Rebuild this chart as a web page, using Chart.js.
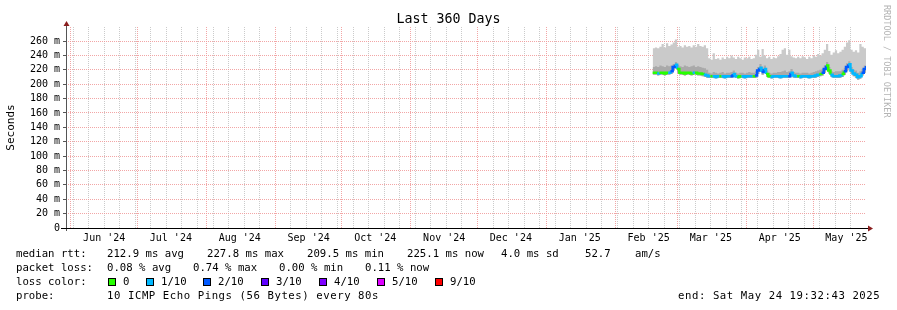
<!DOCTYPE html>
<html>
<head>
<meta charset="utf-8">
<script src="https://cdn.jsdelivr.net/npm/chart.js@4.4.1/dist/chart.umd.min.js"></script>
<style>
  html, body { margin: 0; padding: 0; background: #fff; }
  #wrap { position: relative; width: 897px; height: 310px; overflow: hidden; font-family: "DejaVu Sans Mono", monospace; }
  #wrap canvas { position: absolute; left: 0; top: 0; }
  .t { position: absolute; white-space: pre; font-size: 10.67px; line-height: 14px; color: #000; }
  .ancho { letter-spacing: 0.56px; }
  .sw { position: absolute; width: 6px; height: 6px; border: 1px solid #000; }
  #titulo { position: absolute; left: 0; width: 897px; top: 11px; text-align: center; font-size: 13.3px; line-height: 16px; }
  #marca { position: absolute; left: 882px; top: 5px; writing-mode: vertical-rl; text-orientation: sideways; font-size: 8.5px; color: #b4b4b4; white-space: pre; }
</style>
</head>
<body>
<div id="wrap">
  <canvas id="graficoSmoke" width="897" height="310"></canvas>
  <div id="titulo">Last 360 Days</div>
  <div id="marca">RRDTOOL / TOBI OETIKER</div>

  <div class="t" style="left:16px;top:247px">median rtt:</div>
  <div class="t" style="left:107px;top:247px">212.9 ms avg</div>
  <div class="t" style="left:207px;top:247px">227.8 ms max</div>
  <div class="t" style="left:307px;top:247px">209.5 ms min</div>
  <div class="t" style="left:407px;top:247px">225.1 ms now</div>
  <div class="t" style="left:501px;top:247px">4.0 ms sd</div>
  <div class="t" style="left:585px;top:247px">52.7</div>
  <div class="t" style="left:635px;top:247px">am/s</div>

  <div class="t" style="left:16px;top:261px">packet loss:</div>
  <div class="t" style="left:107px;top:261px">0.08 % avg</div>
  <div class="t" style="left:193px;top:261px">0.74 % max</div>
  <div class="t" style="left:279px;top:261px">0.00 % min</div>
  <div class="t" style="left:365px;top:261px">0.11 % now</div>

  <div class="t" style="left:16px;top:275px">loss color:</div>
  <div id="leyendaPerdida"></div>

  <div class="t" style="left:16px;top:289px">probe:</div>
  <div class="t ancho" style="left:107px;top:289px">10 ICMP Echo Pings (56 Bytes) every 80s</div>
  <div class="t ancho" style="left:678px;top:289px">end: Sat May 24 19:32:43 2025</div>
</div>
<script>
// fin del grafico y ventana de 360 dias
const fin = Date.UTC(2025, 4, 24, 19, 32, 43)
const totalDias = 360
const inicio = fin - totalDias * 86400000

// etiquetas de meses (centradas a mitad de mes)
const meses = ["Jun '24", "Jul '24", "Aug '24", "Sep '24", "Oct '24", "Nov '24",
  "Dec '24", "Jan '25", "Feb '25", "Mar '25", "Apr '25", "May '25"]

// colores de perdida
const etiquetasPerdida = ['0', '1/10', '2/10', '3/10', '4/10', '5/10', '9/10']
const coloresPerdida = ['#26ff00', '#00b8ff', '#0059ff', '#5e00ff', '#7e00ff', '#dd00ff', '#ff0000']

// primer dia con datos (dias desde el inicio), un valor por dia
const primerDia = 264

const mediana = [
  216, 216, 215, 216, 216, 215, 216, 216, 218, 224,
  227, 221, 216, 216, 215, 216, 216, 215, 216, 216,
  215, 215, 214, 213, 212,
  211, 211, 211, 210, 211, 211, 211, 210, 211, 211,
  211, 214, 211, 210, 211, 211, 210, 211, 211, 211,
  211, 212, 219, 223, 217, 221, 214, 211, 210, 211,
  211, 211, 210, 211, 211, 211, 211, 216, 212, 211,
  211, 210, 211, 211, 211, 210, 211, 211, 212, 213,
  214, 216, 221, 226, 219, 213, 211, 211, 211, 212,
  214, 218, 224, 227.8, 219, 215, 213, 209.5, 211, 216,
  221, 225.1
]

const perdida = [
  0, 0, 0, 1, 0, 0, 0, 0, 1, 2,
  2, 1, 0, 0, 0, 0, 0, 0, 0, 1,
  0, 0, 0, 0, 1,
  1, 1, 0, 1, 1, 1, 0, 1, 1, 1,
  1, 2, 1, 1, 0, 0, 1, 1, 1, 1,
  1, 0, 2, 2, 1, 2, 1, 0, 0, 1,
  1, 1, 1, 1, 1, 1, 1, 2, 1, 1,
  1, 0, 1, 1, 1, 1, 1, 1, 1, 1,
  1, 0, 2, 2, 0, 0, 1, 1, 1, 1,
  1, 0, 2, 2, 1, 1, 1, 1, 1, 1,
  2, 2
]

const humoBajo = [
  213, 213, 212, 213, 213, 212, 213, 213, 214, 219,
  222, 216, 213, 213, 212, 213, 213, 212, 213, 213,
  212, 212, 211, 210, 209,
  208.5, 208.5, 208.5, 208, 208.5, 208.5, 208.5, 208, 208.5, 208.5,
  208.5, 210, 208.5, 208, 208.5, 208.5, 208, 208.5, 208.5, 208.5,
  208.5, 209, 214, 218, 213, 216, 210, 208.5, 208, 208.5,
  208.5, 208.5, 208, 208.5, 208.5, 208.5, 208.5, 212, 209, 208.5,
  208.5, 208, 208.5, 208.5, 208.5, 208, 208.5, 208.5, 209, 210,
  211, 212, 216, 221, 215, 210, 208.5, 208.5, 208.5, 209,
  210, 213, 218, 222, 215, 211, 209, 206, 208, 212,
  216, 220
]

const humoMedio = [
  224, 225, 224, 226, 225, 224, 226, 225, 226, 228,
  231, 227, 225, 224, 226, 225, 224, 225, 226, 224,
  225, 224, 223, 222, 220,
  216, 215, 217, 216, 215, 216, 217, 215, 216, 216,
  217, 219, 216, 215, 216, 216, 215, 216, 217, 216,
  216, 218, 224, 228, 223, 226, 219, 216, 215, 216,
  216, 217, 217, 218, 219, 217, 218, 221, 217, 216,
  216, 215, 216, 216, 216, 215, 216, 217, 218, 219,
  220, 221, 226, 231, 224, 218, 217, 218, 218, 218,
  220, 223, 229, 232, 224, 220, 219, 216, 218, 221,
  226, 229
]

const humoAlto = [
  250, 251, 250, 252, 256, 251, 257, 253, 255, 258,
  262, 252, 253, 251, 254, 252, 253, 251, 254, 252,
  256, 253, 252, 254, 250,
  236, 234, 243, 235, 236, 234, 237, 235, 238, 236,
  240, 237, 235, 238, 236, 234, 237, 236, 238, 235,
  236, 241, 248, 238, 249, 240, 236, 238, 235, 237,
  236, 239, 242, 248, 250, 241, 248, 239, 237, 236,
  238, 236, 239, 237, 235, 238, 236, 240, 238, 242,
  240, 243, 248, 256, 246, 241, 244, 247, 243, 245,
  248, 252, 258, 261, 248, 245, 247, 244, 256, 252,
  250, 251
]

const rojo = 'rgba(240,150,150,0.85)'
const gris = 'rgba(190,190,190,0.8)'

const diaDe = (ms) => (ms - inicio) / 86400000
const puntos = (arr) => arr.map((v, i) => ({ x: primerDia + i, y: v }))

// ticks del eje x: inicio de mes (rojo), domingos (gris), etiquetas a mitad de mes
const ticksX = new Map()
const ponerTick = (v, campo, valor) => {
  const t = ticksX.get(v) || { value: v }
  t[campo] = valor
  ticksX.set(v, t)
}
const d0 = new Date(inicio)
meses.forEach((m, k) => {
  const y = d0.getUTCFullYear(), mo = d0.getUTCMonth() + 1 + k
  ponerTick(diaDe(Date.UTC(y, mo, 1)), 'tipo', 'mes')
  ponerTick(diaDe(Date.UTC(y, mo, 16)), 'texto', m)
})
let domingo = Date.UTC(d0.getUTCFullYear(), d0.getUTCMonth(), d0.getUTCDate() + 1)
while (new Date(domingo).getUTCDay() !== 0) domingo += 86400000
for (; domingo < fin; domingo += 7 * 86400000) {
  const v = diaDe(domingo)
  if (!(ticksX.get(v) || {}).tipo) ponerTick(v, 'tipo', 'semana')
}
const listaTicksX = [...ticksX.values()].filter(t => t.value > 0 && t.value < totalDias).sort((a, b) => a.value - b.value)

// leyenda de colores de perdida
const leyenda = document.getElementById('leyendaPerdida')
const posCuadro = [108, 146, 203, 261, 319, 377, 435]
etiquetasPerdida.forEach((et, i) => {
  const c = document.createElement('div')
  c.className = 'sw'
  c.style.left = posCuadro[i] + 'px'
  c.style.top = '278px'
  c.style.background = coloresPerdida[i]
  leyenda.appendChild(c)
  const t = document.createElement('div')
  t.className = 't'
  t.style.left = (posCuadro[i] + 15) + 'px'
  t.style.top = '275px'
  t.textContent = et
  leyenda.appendChild(t)
})

// ejes con flechas
const flechas = {
  id: 'flechas',
  afterDraw(chart) {
    const { ctx, chartArea: a } = chart
    ctx.save()
    ctx.lineWidth = 1
    ctx.strokeStyle = '#555'
    ctx.beginPath()
    ctx.moveTo(a.left + 0.5, a.bottom + 3)
    ctx.lineTo(a.left + 0.5, a.top - 3)
    ctx.stroke()
    ctx.strokeStyle = '#000'
    ctx.beginPath()
    ctx.moveTo(a.left - 5, a.bottom + 0.5)
    ctx.lineTo(a.right + 3, a.bottom + 0.5)
    ctx.stroke()
    ctx.fillStyle = '#8a1e1e'
    ctx.beginPath()
    ctx.moveTo(a.left + 0.5, a.top - 6)
    ctx.lineTo(a.left + 3.5, a.top - 1)
    ctx.lineTo(a.left - 2.5, a.top - 1)
    ctx.closePath()
    ctx.fill()
    ctx.beginPath()
    ctx.moveTo(a.right + 7, a.bottom + 0.5)
    ctx.lineTo(a.right + 2, a.bottom - 2.5)
    ctx.lineTo(a.right + 2, a.bottom + 3.5)
    ctx.closePath()
    ctx.fill()
    ctx.restore()
  }
}

const fuente = { family: 'DejaVu Sans Mono', size: 10 }
const sinLinea = { borderColor: 'rgba(0,0,0,0)', borderWidth: 0, pointRadius: 0, stepped: 'before' }

const lienzo = document.getElementById('graficoSmoke')

new Chart(lienzo, {
  type: 'line',
  data: {
    datasets: [
      { label: 'min', data: puntos(humoBajo), fill: false, order: 10, ...sinLinea },
      { label: 'smoke', data: puntos(humoAlto), fill: 0, backgroundColor: '#cacaca', order: 5, ...sinLinea },
      { label: 'smoke core', data: puntos(humoMedio), fill: 0, backgroundColor: '#a9a9a9', order: 4, ...sinLinea },
      {
        label: 'median rtt',
        data: puntos(mediana),
        fill: false,
        order: 1,
        borderWidth: 2.5,
        pointRadius: 0,
        stepped: 'before',
        borderColor: coloresPerdida[1],
        segment: {
          borderColor: (ctx) => coloresPerdida[perdida[ctx.p1DataIndex]]
        }
      }
    ]
  },
  options: {
    responsive: false,
    animation: false,
    events: [],
    layout: { padding: { top: 27, right: 31, left: 0, bottom: 0 } },
    plugins: { legend: { display: false }, tooltip: { enabled: false } },
    scales: {
      x: {
        type: 'linear',
        min: 0,
        max: totalDias,
        afterBuildTicks: (scale) => { scale.ticks = listaTicksX.map(t => ({ ...t })) },
        afterFit: (scale) => { scale.height = 82 },
        ticks: {
          autoSkip: false,
          maxRotation: 0,
          padding: 4,
          color: '#000',
          font: fuente,
          callback: function (v, i) { return this.ticks[i].texto || '' }
        },
        grid: {
          drawTicks: false,
          lineWidth: 1,
          color: (ctx) => {
            const t = ctx.tick || {}
            if (t.tipo === 'mes') return rojo
            if (t.tipo === 'semana') return gris
            return 'rgba(0,0,0,0)'
          }
        },
        border: { display: false, dash: [1, 1] }
      },
      y: {
        min: 0,
        max: 279.5,
        afterBuildTicks: (scale) => {
          const t = []
          for (let v = 0; v <= 270; v += 10) t.push({ value: v })
          scale.ticks = t
        },
        afterFit: (scale) => { scale.width = 66 },
        title: {
          display: true,
          text: 'Seconds',
          color: '#000',
          font: { family: 'DejaVu Sans Mono', size: 11 },
          padding: { top: 5, bottom: 0 }
        },
        ticks: {
          padding: 3,
          color: '#000',
          font: fuente,
          callback: (v) => v % 20 === 0 ? (v === 0 ? '0' : v + ' m') : ''
        },
        grid: {
          drawTicks: true,
          tickLength: 3,
          tickColor: (ctx) => ctx.tick && ctx.tick.value % 20 === 0 ? '#555' : 'rgba(0,0,0,0)',
          lineWidth: 1,
          color: (ctx) => {
            const v = ctx.tick ? ctx.tick.value : 0
            if (v === 0) return 'rgba(0,0,0,0)'
            return v % 20 === 0 ? rojo : gris
          }
        },
        border: { display: false, dash: [1, 1] }
      }
    }
  },
  plugins: [flechas]
})
</script>
</body>
</html>
